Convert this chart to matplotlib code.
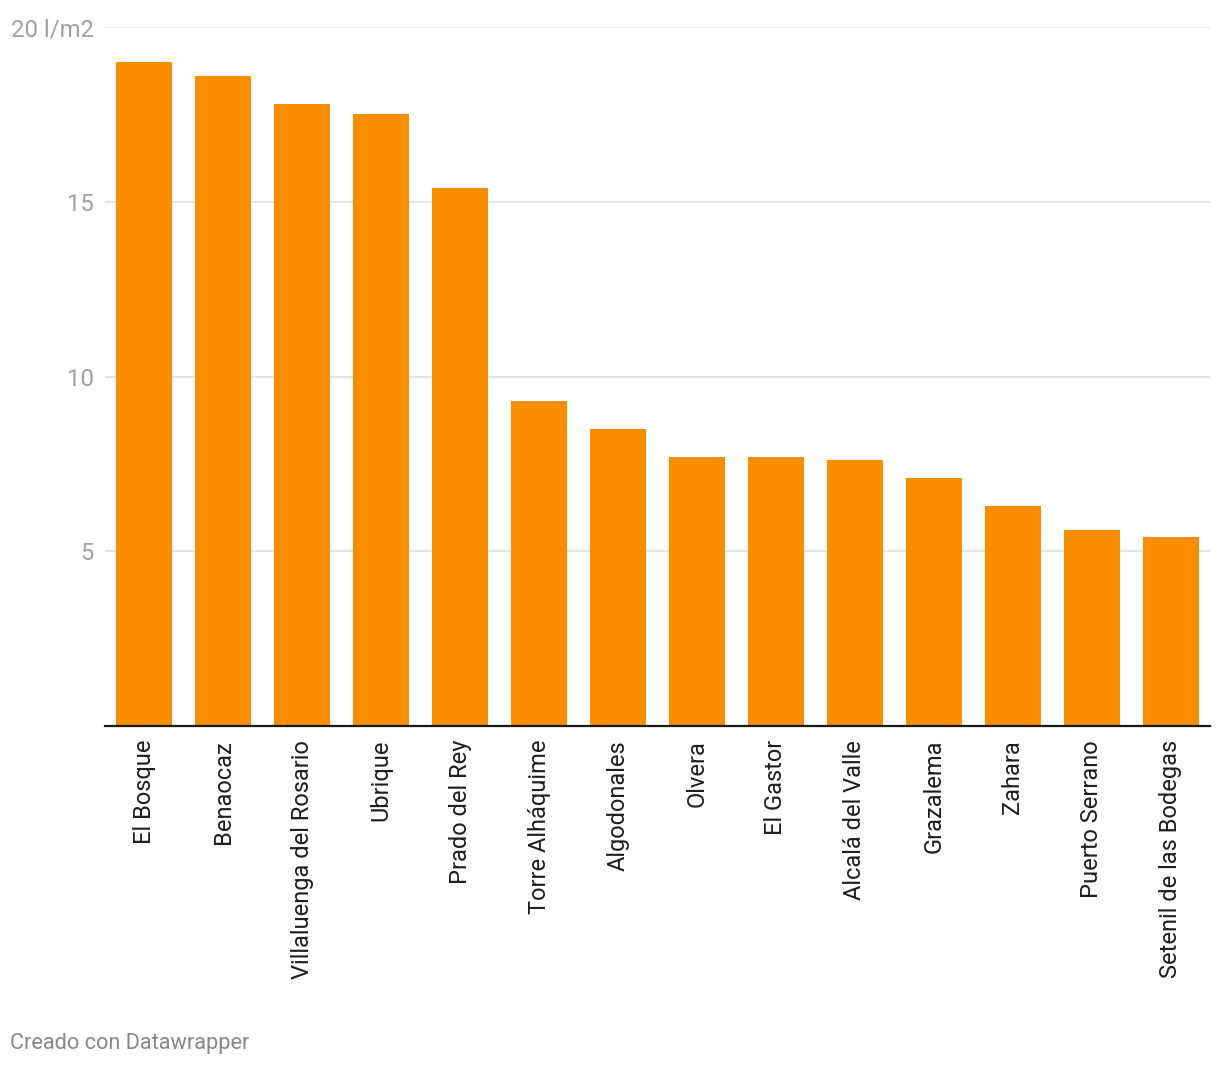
import matplotlib
matplotlib.use('Agg')
import matplotlib.pyplot as plt

# rainfall by town, l/m2
towns = ["El Bosque", "Benaocaz", "Villaluenga del Rosario", "Ubrique",
         "Prado del Rey", "Torre Alháquime", "Algodonales", "Olvera",
         "El Gastor", "Alcalá del Valle", "Grazalema", "Zahara",
         "Puerto Serrano", "Setenil de las Bodegas"]
rain = [19.0, 18.6, 17.8, 17.5, 15.4, 9.3, 8.5, 7.7, 7.7, 7.6, 7.1, 6.3, 5.6, 5.4]
yticks = [5, 10, 15, 20]
ytick_labels = ["5", "10", "15", "20 l/m2"]

plt.rcParams['font.family'] = ['Roboto', 'DejaVu Sans']

W, H = 1220, 1066
fig = plt.figure(figsize=(W / 100, H / 100), dpi=100)
ax = fig.add_axes([105 / W, (H - 726) / H, (1210 - 105) / W, (726 - 27) / H])

x = range(len(towns))
ax.bar(x, rain, width=0.71, color='#f98d00', zorder=2)

ax.set_xlim(-0.5, len(towns) - 0.5)
ax.set_ylim(0, 20)
ax.set_yticks(yticks)
ax.set_yticklabels(ytick_labels)
ax.set_xticks(list(x))
ax.set_xticklabels(towns, rotation=90, ha='center', va='top')

ax.grid(axis='y', color='#e1e1e1', lw=1.3, zorder=0)
for s in ['top', 'right', 'left']:
    ax.spines[s].set_visible(False)
ax.spines['bottom'].set_color('#1a1a1a')
ax.spines['bottom'].set_linewidth(1.6)
ax.spines['bottom'].set_zorder(3)

ax.tick_params(axis='y', length=0, pad=8, labelsize=17.2, labelcolor='#a0a0a0')
ax.tick_params(axis='x', length=0, pad=10, labelsize=17, labelcolor='#1e1e1e')

fig.text(10 / W, 1 - 1043 / H, "Creado con Datawrapper", fontsize=15.7,
         color='#888888', ha='left', va='center')

fig.savefig('out.png', dpi=100)
